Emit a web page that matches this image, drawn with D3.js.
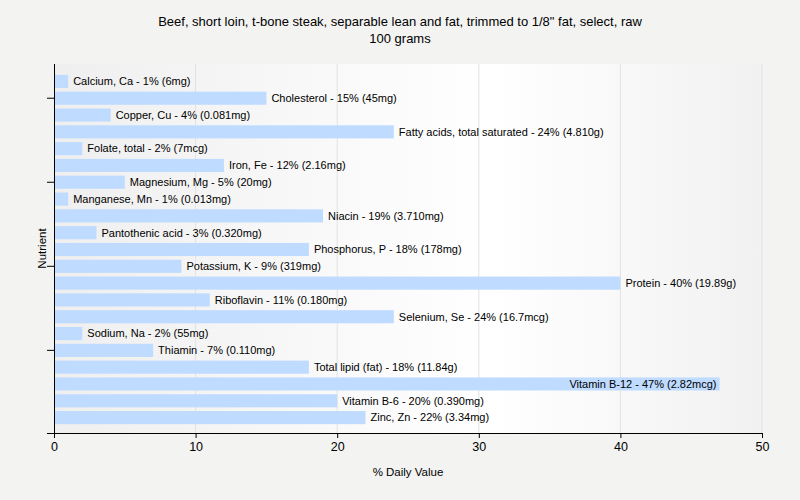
<!DOCTYPE html>
<html>
<head>
<meta charset="utf-8">
<script src="https://cdn.jsdelivr.net/npm/d3@7"></script>
<style>
  body { margin: 0; background: #f3f3f2; }
  text { font-family: Tahoma, "Liberation Sans", Arial, sans-serif; fill: #000; }
</style>
</head>
<body>
<div id="chart"></div>
<script>
var titleLines = ['Beef, short loin, t-bone steak, separable lean and fat, trimmed to 1/8" fat, select, raw', '100 grams'];

var nutrients = ['Calcium, Ca', 'Cholesterol', 'Copper, Cu', 'Fatty acids, total saturated', 'Folate, total',
    'Iron, Fe', 'Magnesium, Mg', 'Manganese, Mn', 'Niacin', 'Pantothenic acid', 'Phosphorus, P',
    'Potassium, K', 'Protein', 'Riboflavin', 'Selenium, Se', 'Sodium, Na', 'Thiamin', 'Total lipid (fat)',
    'Vitamin B-12', 'Vitamin B-6', 'Zinc, Zn'];
var dailyValues = [1, 15, 4, 24, 2, 12, 5, 1, 19, 3, 18, 9, 40, 11, 24, 2, 7, 18, 47, 20, 22];
var amounts = ['6mg', '45mg', '0.081mg', '4.810g', '7mcg', '2.16mg', '20mg', '0.013mg', '3.710mg', '0.320mg',
    '178mg', '319mg', '19.89g', '0.180mg', '16.7mcg', '55mg', '0.110mg', '11.84g', '2.82mcg', '0.390mg', '3.34mg'];
var xTicks = [0, 10, 20, 30, 40, 50];
var yTickNutrients = ['Cholesterol', 'Magnesium, Mg', 'Potassium, K', 'Thiamin'];

var width = 800, height = 500;
var margin = {top: 64, right: 38, bottom: 67, left: 54};
var chartWidth = width - margin.left - margin.right;
var chartHeight = height - margin.top - margin.bottom;

var svg = d3.select('#chart').append('svg')
    .attr('width', width)
    .attr('height', height);

var defs = svg.append('defs');
var grad = defs.append('linearGradient').attr('id', 'bg').attr('x1', '0%').attr('x2', '100%');
grad.append('stop').attr('offset', '0%').attr('stop-color', '#efefef');
grad.append('stop').attr('offset', '62%').attr('stop-color', '#ffffff');
grad.append('stop').attr('offset', '100%').attr('stop-color', '#f1f1f1');

svg.selectAll('text.title')
    .data(titleLines)
    .enter().append('text')
    .attr('class', 'title')
    .attr('x', width / 2)
    .attr('y', function(d, i){ return 26 + i * 17; })
    .attr('text-anchor', 'middle')
    .style('font-size', '13px')
    .text(function(d){ return d; });

var panel = svg.append('g')
    .attr('transform', 'translate(' + margin.left + ',' + margin.top + ')');

panel.append('rect')
    .attr('width', chartWidth)
    .attr('height', chartHeight)
    .attr('fill', 'url(#bg)');

var scaleX = d3.scaleLinear().domain([0, 50]).range([0, chartWidth]);
var scaleY = d3.scaleBand().domain(nutrients).range([9, chartHeight - 7]).paddingInner(0.22).paddingOuter(0.11);

// grid
panel.selectAll('line.grid')
    .data(xTicks.slice(1))
    .enter().append('line')
    .attr('class', 'grid')
    .attr('x1', function(d){ return scaleX(d); })
    .attr('x2', function(d){ return scaleX(d); })
    .attr('y1', 0)
    .attr('y2', chartHeight)
    .attr('stroke', '#e2e2e2')
    .attr('stroke-width', 1);

// bars
panel.selectAll('rect.bar')
    .data(dailyValues)
    .enter().append('rect')
    .attr('class', 'bar')
    .attr('x', 1)
    .attr('y', function(d, i){ return scaleY(nutrients[i]); })
    .attr('width', function(d){ return scaleX(d) - 1; })
    .attr('height', scaleY.bandwidth())
    .attr('fill', '#bfdbff');

// labels
panel.selectAll('text.label')
    .data(dailyValues)
    .enter().append('text')
    .attr('class', 'label')
    .style('font-size', '11px')
    .attr('y', function(d, i){ return scaleY(nutrients[i]) + scaleY.bandwidth() / 2; })
    .attr('dy', '0.35em')
    .text(function(d, i){ return nutrients[i] + ' - ' + d + '% (' + amounts[i] + ')'; })
    .each(function(d){
        var t = d3.select(this);
        var w = this.getComputedTextLength();
        var end = scaleX(d);
        if(end + 5 + w > chartWidth){
            t.attr('x', end - 3).attr('text-anchor', 'end');
        } else {
            t.attr('x', end + 5);
        }
    });

// axes
var axisX = panel.append('g')
    .attr('transform', 'translate(0,' + chartHeight + ')')
    .call(d3.axisBottom(scaleX).tickValues(xTicks).tickSizeOuter(0).tickSize(5).tickPadding(4));
axisX.select('.domain').attr('d', 'M-7,0.5H' + chartWidth);
axisX.selectAll('text').style('font-size', '12.5px').style('font-family', 'Tahoma, "Liberation Sans", Arial, sans-serif');

var axisY = panel.append('g')
    .call(d3.axisLeft(scaleY).tickValues(yTickNutrients).tickSizeOuter(0).tickSize(7).tickFormat(''));
axisY.select('.domain').attr('d', 'M0.5,0V' + chartHeight);

svg.append('text')
    .attr('x', margin.left + chartWidth / 2)
    .attr('y', 476)
    .attr('text-anchor', 'middle')
    .style('font-size', '11.5px')
    .text('% Daily Value');

svg.append('text')
    .attr('transform', 'translate(46,' + (margin.top + chartHeight / 2) + ') rotate(-90)')
    .attr('text-anchor', 'middle')
    .style('font-size', '11.5px')
    .text('Nutrient');
</script>
</body>
</html>
